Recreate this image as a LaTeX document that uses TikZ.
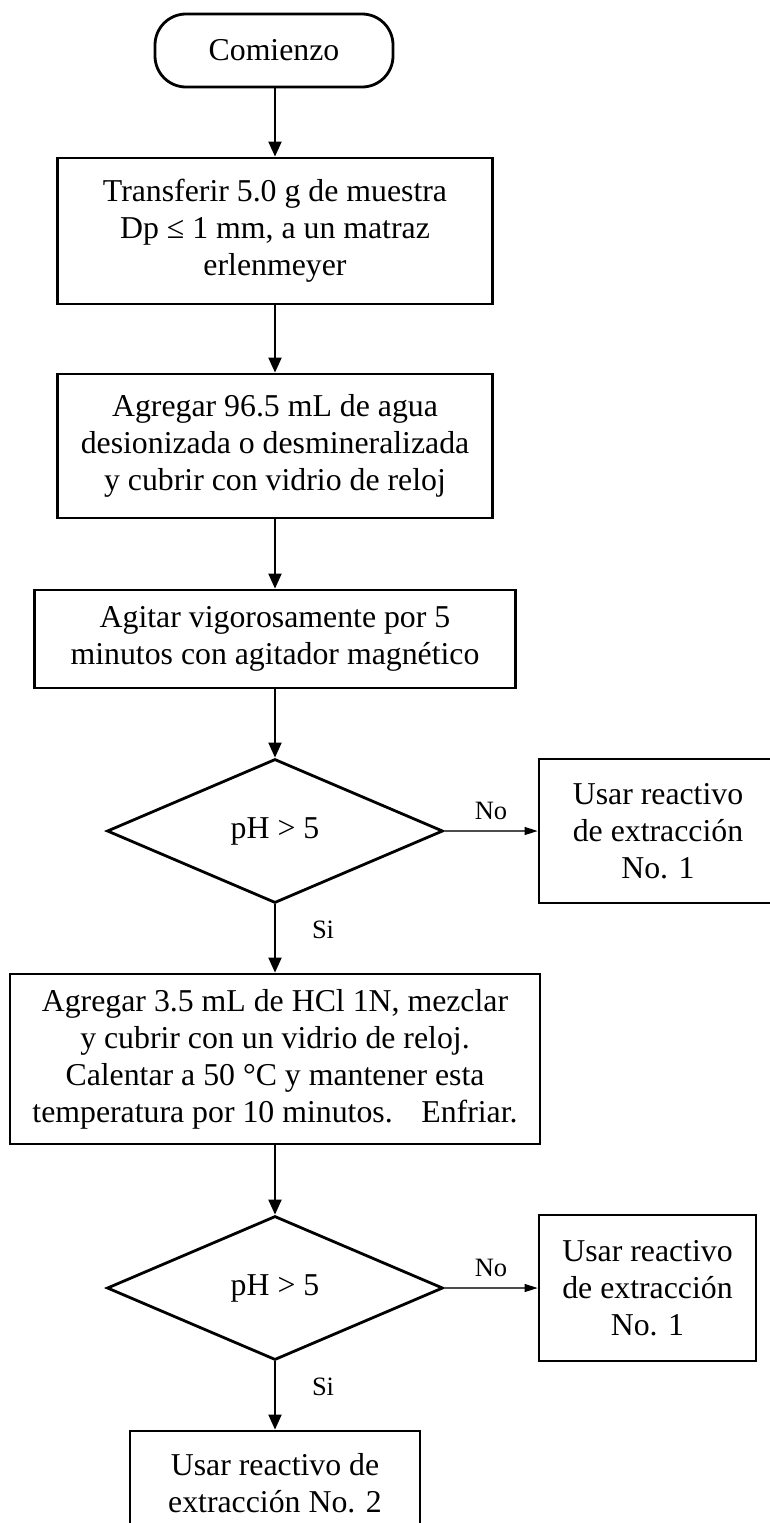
\documentclass[tikz,border=0pt]{standalone}
\usepackage{fontspec}
\setmainfont{Liberation Serif}
\usetikzlibrary{shapes.geometric,arrows.meta}
\tikzset{
  box/.style={draw, rectangle, line width=2.8pt, align=center, inner sep=0pt,
    font=\fontsize{31.8}{37}\selectfont},
  term/.style={box, rounded corners=31pt},
  decision/.style={draw, diamond, line width=2.8pt, inner sep=0pt,
    font=\fontsize{31.8}{37}\selectfont},
  arr/.style={line width=2pt, -{Triangle[length=15pt,width=13pt]}},
  noarr/.style={line width=1.1pt, draw=black!70, -{Triangle[length=13pt,width=8pt,fill=black,color=black]}},
  lbl/.style={font=\fontsize{26.5}{30}\selectfont, inner sep=0pt}
}
\begin{document}
\begin{tikzpicture}[x=1pt,y=-1pt]
\useasboundingbox (0,0) rectangle (770,1523);
\clip (0,0) rectangle (770,1523);
\node[term, minimum width=238pt, minimum height=73pt] (start) at (274,50.5) {Comienzo};
\node[box, minimum width=435pt, minimum height=146pt] (b1) at (275,231) {Transferir 5.0 g de muestra\\Dp ≤ 1 mm, a un matraz\\erlenmeyer};
\node[box, minimum width=435pt, minimum height=144pt] (b2) at (275,446) {Agregar 96.5 mL de agua\\desionizada o desmineralizada\\y cubrir con vidrio de reloj};
\node[box, minimum width=481pt, minimum height=98pt] (b3) at (275,639) {Agitar vigorosamente por 5\\minutos con agitador magnético};
\node[decision, minimum width=336pt, minimum height=144pt] (d1) at (275,831) {pH > 5};
\node[box, minimum width=238pt, minimum height=144pt] (n1) at (658,831) {Usar reactivo\\de extracción\\No. 1};
\node[box, minimum width=530pt, minimum height=170pt] (b4) at (275,1059) {Agregar 3.5 mL de HCl 1N, mezclar\\y cubrir con un vidrio de reloj.\\Calentar a 50 °C y mantener esta\\temperatura por 10 minutos.\hspace{0.9em}Enfriar.};
\node[decision, minimum width=336pt, minimum height=144pt] (d2) at (275,1288) {pH > 5};
\node[box, minimum width=217pt, minimum height=146pt] (n2) at (647.5,1288) {Usar reactivo\\de extracción\\No. 1};
\node[box, minimum width=290pt, minimum height=104pt] (b5) at (275,1483) {Usar reactivo de\\extracción No. 2};

\draw[arr] (start.south -| b1.north) -- (b1.north);
\draw[arr] (b1.south) -- (b2.north);
\draw[arr] (b2.south) -- (b3.north);
\draw[arr] (b3.south) -- (d1.north);
\draw[arr] (d1.south) -- node[lbl, right=36pt, pos=0.38] (si1) {Si} (b4.north);
\draw[noarr] (d1.east) -- node[lbl, above=11pt, pos=0.5] (no1) {No} (n1.west);
\draw[arr] (b4.south) -- (d2.north);
\draw[arr] (d2.south) -- node[lbl, right=36pt, pos=0.38] (si2) {Si} (b5.north);
\draw[noarr] (d2.east) -- node[lbl, above=11pt, pos=0.5] (no2) {No} (n2.west);
\end{tikzpicture}
\end{document}
